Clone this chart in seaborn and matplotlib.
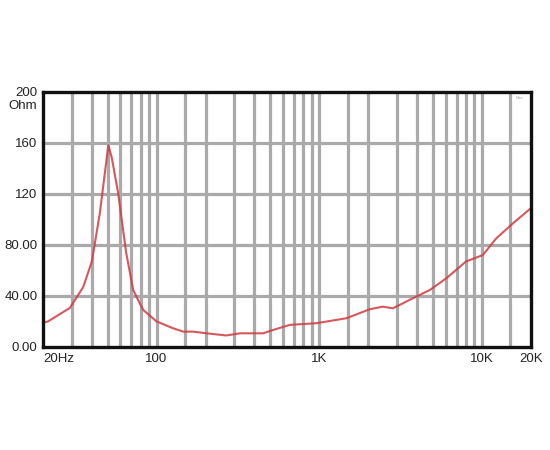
import numpy as np
import pandas as pd
import seaborn as sns
import matplotlib
matplotlib.use("Agg")
import matplotlib.pyplot as plt
from matplotlib.ticker import FixedLocator, NullFormatter

# impedance curve
freq = [20, 21.5, 29.3, 35.4, 40, 44.8, 50.5, 52.9, 58, 65, 71.8, 79, 82.8, 100,
        126, 146, 168, 203, 268, 326, 452, 520, 660, 960, 1470, 2040, 2460,
        2840, 3600, 4800, 6060, 8000, 10140, 12250, 15570, 20000]
ohm = [19, 20, 30.6, 47, 67, 105, 158, 149, 121, 74, 44.7, 34, 29, 20,
       14.7, 12, 12, 10.7, 9, 10.7, 10.7, 13.3, 17.3, 18.6, 22.5, 29.5, 31.6,
       30.3, 36.9, 44.7, 53.9, 67, 72, 85, 97, 108.7]

y_ticks = [0, 40, 80, 120, 160, 200]
y_labels = ["0.00", "40.00", "80.00", "120", "160", "200"]
x_ticks = [20, 100, 1000, 10000, 20000]
x_labels = ["20Hz", "100", "1K", "10K", "20K"]
x_grid = [30, 40, 50, 60, 70, 80, 90, 100, 150, 200, 300, 400, 500, 600, 700,
          800, 900, 1000, 1500, 2000, 3000, 4000, 5000, 6000, 7000, 8000,
          9000, 10000, 15000]

df = pd.DataFrame({"freq": freq, "ohm": ohm})

sns.set_style("white")
plt.rcParams['font.family'] = ['Liberation Sans', 'DejaVu Sans']

fig = plt.figure(figsize=(5.5, 4.5), dpi=100)
ax = fig.add_axes([0.078, 0.229, 0.887, 0.567])

sns.lineplot(data=df, x="freq", y="ohm", ax=ax, color="#d23a40",
             linewidth=1.5, alpha=0.85, zorder=5)

ax.set_xscale("log")
ax.set_xlim(20, 20000)
ax.set_ylim(0, 200)

ax.xaxis.set_major_locator(FixedLocator(x_ticks))
ax.set_xticklabels(x_labels)
ax.xaxis.set_minor_locator(FixedLocator(x_grid))
ax.xaxis.set_minor_formatter(NullFormatter())
ax.set_yticks(y_ticks)
ax.set_yticklabels(y_labels)
ax.get_xticklabels()[0].set_horizontalalignment("left")

# grid lines: vertical only at grid positions, horizontal at inner ticks
for xv in x_grid:
    ax.axvline(xv, color="#aaaaaa", linewidth=2.3, zorder=1)
for yv in y_ticks[1:-1]:
    ax.axhline(yv, color="#aaaaaa", linewidth=2.3, zorder=1)

ax.tick_params(axis="both", which="both", length=0, labelsize=9.5,
               colors="#222222", pad=4)
ax.set_xlabel("")
ax.set_ylabel("")

for s in ax.spines.values():
    s.set_visible(True)
    s.set_color("#111111")
    s.set_linewidth(2.4)
    s.set_zorder(6)

ax.text(-0.012, 0.945, "Ohm", transform=ax.transAxes, ha="right",
        va="center", fontsize=9.5, color="#222222")
ax.text(0.985, 0.985, "Max", transform=ax.transAxes, ha="right",
        va="top", fontsize=3, color="#aaaaaa")

fig.savefig("out.png", dpi=100)
